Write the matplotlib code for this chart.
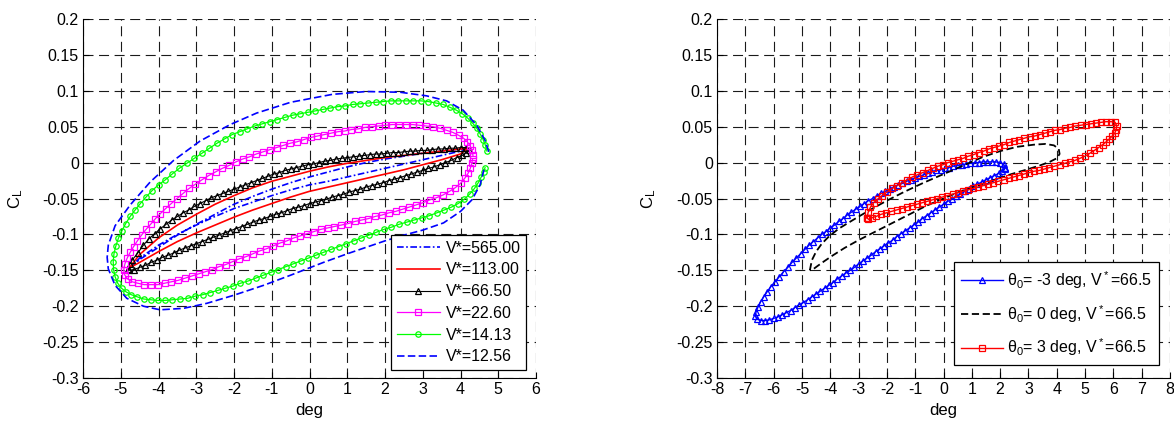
import matplotlib
matplotlib.use("Agg")
import matplotlib.pyplot as plt

plt.rcParams['font.family'] = ['Liberation Sans', 'DejaVu Sans']
plt.rcParams['mathtext.fontset'] = 'custom'
plt.rcParams['mathtext.rm'] = 'Liberation Sans'
plt.rcParams['mathtext.it'] = 'Liberation Sans:italic'

# ================= left panel data (deg, C_L) =================
v565_loop = [(-4.75, -0.146), (-4.5, -0.135), (-4.0, -0.118), (-3.5, -0.101), (-3.0, -0.086), (-2.5, -0.072), (-2.0, -0.058),
             (-1.5, -0.047), (-1.0, -0.037), (-0.5, -0.028), (0.0, -0.020), (0.5, -0.013), (1.0, -0.006), (1.5, 0.000),
             (2.0, 0.005), (2.5, 0.009), (3.0, 0.013), (3.5, 0.016), (4.0, 0.019), (4.15, 0.020),
             (4.0, 0.016), (3.5, 0.010), (3.0, 0.004), (2.5, -0.002), (2.0, -0.008), (1.5, -0.014), (1.0, -0.020),
             (0.5, -0.026), (0.0, -0.031), (-0.5, -0.038), (-1.0, -0.046), (-1.5, -0.055), (-2.0, -0.064), (-2.5, -0.075),
             (-3.0, -0.087), (-3.5, -0.100), (-4.0, -0.115), (-4.5, -0.133), (-4.75, -0.146)]

v113_loop = [(-4.78, -0.147), (-4.5, -0.128), (-4.0, -0.105), (-3.5, -0.087), (-3.0, -0.072), (-2.5, -0.058), (-2.0, -0.046),
             (-1.5, -0.035), (-1.0, -0.026), (-0.5, -0.019), (0.0, -0.012), (0.5, -0.006), (1.0, -0.001), (1.5, 0.003),
             (2.0, 0.007), (2.5, 0.010), (3.0, 0.013), (3.5, 0.016), (4.0, 0.019), (4.2, 0.020),
             (4.0, 0.012), (3.5, 0.004), (3.0, -0.003), (2.5, -0.010), (2.0, -0.016), (1.5, -0.022), (1.0, -0.028),
             (0.5, -0.034), (0.0, -0.040), (-0.5, -0.048), (-1.0, -0.057), (-1.5, -0.066), (-2.0, -0.076), (-2.5, -0.087),
             (-3.0, -0.098), (-3.5, -0.110), (-4.0, -0.124), (-4.5, -0.139), (-4.78, -0.147)]

v665_upper = [(-4.82, -0.148), (-4.76, -0.141), (-4.7, -0.136), (-4.55, -0.126), (-4.4, -0.115), (-4.25, -0.106), (-4.1, -0.099),
              (-3.95, -0.092), (-3.8, -0.086), (-3.65, -0.080), (-3.5, -0.075), (-3.35, -0.070), (-3.2, -0.066), (-3.05, -0.061),
              (-2.9, -0.057), (-2.75, -0.053), (-2.6, -0.049), (-2.45, -0.046), (-2.3, -0.043), (-2.15, -0.040), (-2.0, -0.037),
              (-1.85, -0.034), (-1.7, -0.031), (-1.55, -0.028), (-1.4, -0.025), (-1.25, -0.022), (-1.1, -0.019), (-0.95, -0.016),
              (-0.8, -0.014), (-0.65, -0.011), (-0.5, -0.009), (-0.35, -0.007), (-0.2, -0.005), (-0.05, -0.003), (0.1, -0.002),
              (0.25, 0.000), (0.4, 0.002), (0.55, 0.003), (0.7, 0.005), (0.85, 0.006), (1.0, 0.007), (1.15, 0.008), (1.3, 0.009),
              (1.45, 0.010), (1.6, 0.011), (1.75, 0.012), (1.9, 0.012), (2.05, 0.013), (2.2, 0.014), (2.35, 0.014), (2.5, 0.015),
              (2.65, 0.016), (2.8, 0.016), (2.95, 0.017), (3.1, 0.017), (3.25, 0.018), (3.4, 0.019), (3.55, 0.019), (3.7, 0.020),
              (3.85, 0.020), (4.0, 0.021), (4.15, 0.021), (4.22, 0.018)]
v665_lower = [(4.15, 0.014), (4.05, 0.010), (3.9, 0.007), (3.75, 0.003), (3.6, 0.000), (3.45, -0.003), (3.3, -0.006), (3.15, -0.008),
              (3.0, -0.011), (2.85, -0.013), (2.7, -0.016), (2.55, -0.018), (2.4, -0.021), (2.25, -0.023), (2.1, -0.025),
              (1.95, -0.028), (1.8, -0.030), (1.65, -0.032), (1.5, -0.034), (1.35, -0.037), (1.2, -0.039), (1.05, -0.041),
              (0.9, -0.044), (0.75, -0.046), (0.6, -0.048), (0.45, -0.051), (0.3, -0.053), (0.15, -0.055), (0.0, -0.057),
              (-0.15, -0.060), (-0.3, -0.062), (-0.45, -0.064), (-0.6, -0.067), (-0.75, -0.070), (-0.9, -0.072), (-1.05, -0.075),
              (-1.2, -0.078), (-1.35, -0.080), (-1.5, -0.083), (-1.65, -0.086), (-1.8, -0.089), (-1.95, -0.092), (-2.1, -0.095),
              (-2.25, -0.098), (-2.4, -0.101), (-2.55, -0.104), (-2.7, -0.107), (-2.85, -0.110), (-3.0, -0.113), (-3.15, -0.116),
              (-3.3, -0.119), (-3.45, -0.122), (-3.6, -0.126), (-3.75, -0.129), (-3.9, -0.132), (-4.05, -0.136), (-4.2, -0.139),
              (-4.35, -0.143), (-4.5, -0.146), (-4.65, -0.149), (-4.78, -0.150)]

v226_loop = [(4.33, 0.010), (4.31, 0.017), (4.26, 0.023), (4.18, 0.029), (4.08, 0.034), (3.95, 0.038), (3.8, 0.042), (3.63, 0.045),
             (3.45, 0.048), (3.27, 0.050), (3.09, 0.051), (2.91, 0.052), (2.73, 0.053), (2.55, 0.053), (2.37, 0.053), (2.19, 0.053),
             (2.01, 0.052), (1.83, 0.051), (1.65, 0.050), (1.47, 0.049), (1.29, 0.047), (1.11, 0.046), (0.93, 0.044), (0.75, 0.043),
             (0.57, 0.041), (0.39, 0.039), (0.21, 0.037), (0.03, 0.035), (-0.15, 0.032), (-0.33, 0.029), (-0.51, 0.027),
             (-0.69, 0.024), (-0.87, 0.021), (-1.05, 0.018), (-1.23, 0.015), (-1.41, 0.012), (-1.59, 0.008), (-1.77, 0.005),
             (-1.95, 0.001), (-2.13, -0.004), (-2.31, -0.008), (-2.49, -0.013), (-2.67, -0.018), (-2.85, -0.024), (-3.02, -0.030),
             (-3.19, -0.036), (-3.35, -0.043), (-3.51, -0.050), (-3.66, -0.057), (-3.81, -0.064), (-3.95, -0.071), (-4.08, -0.078),
             (-4.21, -0.086), (-4.33, -0.093), (-4.45, -0.101), (-4.56, -0.109), (-4.66, -0.117), (-4.75, -0.125), (-4.83, -0.133),
             (-4.89, -0.141), (-4.92, -0.149), (-4.9, -0.156), (-4.82, -0.162), (-4.7, -0.166), (-4.55, -0.168), (-4.38, -0.170),
             (-4.2, -0.170), (-4.02, -0.170), (-3.84, -0.168), (-3.66, -0.166), (-3.48, -0.164), (-3.3, -0.161), (-3.12, -0.158),
             (-2.94, -0.155), (-2.76, -0.152), (-2.58, -0.149), (-2.4, -0.145), (-2.22, -0.142), (-2.04, -0.138), (-1.86, -0.134),
             (-1.68, -0.131), (-1.5, -0.127), (-1.32, -0.123), (-1.14, -0.120), (-0.96, -0.116), (-0.78, -0.112), (-0.6, -0.109),
             (-0.42, -0.105), (-0.24, -0.102), (-0.06, -0.099), (0.12, -0.096), (0.3, -0.093), (0.48, -0.091), (0.66, -0.089),
             (0.84, -0.087), (1.02, -0.085), (1.2, -0.082), (1.38, -0.080), (1.56, -0.078), (1.74, -0.075), (1.92, -0.073),
             (2.1, -0.070), (2.28, -0.068), (2.46, -0.065), (2.64, -0.062), (2.82, -0.059), (3.0, -0.056), (3.18, -0.052),
             (3.36, -0.049), (3.54, -0.045), (3.71, -0.040), (3.86, -0.035), (4.0, -0.029), (4.11, -0.022), (4.2, -0.015),
             (4.26, -0.008), (4.3, -0.001), (4.32, 0.005)]

v1413_loop = [(4.70, 0.016), (4.66, 0.024), (4.60, 0.032), (4.52, 0.040), (4.43, 0.048), (4.32, 0.055), (4.19, 0.062), (4.05, 0.068),
              (3.89, 0.073), (3.72, 0.077), (3.54, 0.081), (3.35, 0.083), (3.15, 0.085), (2.95, 0.086), (2.75, 0.086), (2.55, 0.086),
              (2.35, 0.086), (2.15, 0.086), (1.95, 0.085), (1.75, 0.084), (1.55, 0.083), (1.35, 0.082), (1.15, 0.081), (0.95, 0.079),
              (0.75, 0.078), (0.55, 0.076), (0.35, 0.074), (0.15, 0.072), (-0.05, 0.070), (-0.25, 0.068), (-0.45, 0.066),
              (-0.65, 0.063), (-0.85, 0.060), (-1.05, 0.057), (-1.25, 0.054), (-1.45, 0.051), (-1.65, 0.047), (-1.85, 0.043),
              (-2.05, 0.039), (-2.25, 0.033), (-2.45, 0.027), (-2.65, 0.020), (-2.85, 0.013), (-3.05, 0.006), (-3.25, -0.001),
              (-3.45, -0.008), (-3.64, -0.016), (-3.82, -0.024), (-4.0, -0.031), (-4.17, -0.039), (-4.33, -0.048), (-4.48, -0.057),
              (-4.62, -0.066), (-4.75, -0.075), (-4.87, -0.085), (-4.97, -0.095), (-5.06, -0.105), (-5.13, -0.116), (-5.18, -0.127),
              (-5.2, -0.138), (-5.19, -0.149), (-5.15, -0.159), (-5.08, -0.168), (-4.98, -0.175), (-4.86, -0.180), (-4.72, -0.184),
              (-4.56, -0.187), (-4.39, -0.190), (-4.21, -0.191), (-4.02, -0.192), (-3.83, -0.192), (-3.63, -0.191), (-3.43, -0.190),
              (-3.23, -0.189), (-3.03, -0.186), (-2.83, -0.184), (-2.63, -0.181), (-2.43, -0.178), (-2.23, -0.175), (-2.03, -0.172),
              (-1.83, -0.168), (-1.63, -0.165), (-1.43, -0.161), (-1.23, -0.157), (-1.03, -0.153), (-0.83, -0.149), (-0.63, -0.145),
              (-0.43, -0.141), (-0.23, -0.137), (-0.03, -0.133), (0.17, -0.129), (0.37, -0.125), (0.57, -0.121), (0.77, -0.117),
              (0.97, -0.113), (1.17, -0.109), (1.37, -0.105), (1.57, -0.101), (1.77, -0.097), (1.97, -0.093), (2.17, -0.090),
              (2.37, -0.086), (2.57, -0.083), (2.77, -0.080), (2.97, -0.077), (3.17, -0.074), (3.37, -0.070), (3.57, -0.066),
              (3.76, -0.062), (3.94, -0.057), (4.1, -0.051), (4.24, -0.044), (4.37, -0.036), (4.47, -0.028), (4.55, -0.020),
              (4.61, -0.013), (4.65, -0.007)]

v1256_loop = [(4.75, 0.015), (4.65, 0.031), (4.43, 0.052), (4.07, 0.073), (3.63, 0.086), (3.1, 0.093), (2.4, 0.098), (1.5, 0.099),
              (0.6, 0.095), (-0.5, 0.084), (-1.4, 0.069), (-2.1, 0.053), (-2.9, 0.030), (-3.6, 0.003), (-4.22, -0.027),
              (-4.75, -0.059), (-5.15, -0.088), (-5.33, -0.115), (-5.36, -0.132), (-5.33, -0.148), (-5.15, -0.171), (-4.84, -0.189),
              (-4.4, -0.200), (-3.96, -0.205), (-3.34, -0.203), (-2.72, -0.196), (-2.02, -0.185), (-1.22, -0.171), (-0.51, -0.157),
              (0.37, -0.139), (1.0, -0.127), (1.5, -0.118), (2.0, -0.109), (2.5, -0.101), (3.0, -0.094), (3.55, -0.084),
              (4.0, -0.068), (4.3, -0.052), (4.52, -0.031), (4.62, -0.010)]

left_labels = ['V*=565.00', 'V*=113.00', 'V*=66.50', 'V*=22.60', 'V*=14.13', 'V*=12.56']

# ================= right panel data (deg, C_L) =================
thm3_loop = [(2.18, -0.007), (2.12, -0.002), (2.0, 0.000), (1.85, 0.001), (1.7, 0.001), (1.55, 0.001), (1.4, 0.001), (1.25, 0.000),
             (1.1, 0.000), (0.95, -0.001), (0.8, -0.002), (0.65, -0.003), (0.5, -0.004), (0.35, -0.005), (0.2, -0.007),
             (0.05, -0.008), (-0.1, -0.010), (-0.25, -0.011), (-0.4, -0.013), (-0.55, -0.015), (-0.7, -0.017), (-0.85, -0.019),
             (-1.0, -0.021), (-1.15, -0.024), (-1.3, -0.026), (-1.45, -0.029), (-1.6, -0.031), (-1.75, -0.034), (-1.9, -0.037),
             (-2.05, -0.040), (-2.2, -0.043), (-2.35, -0.046), (-2.5, -0.050), (-2.65, -0.053), (-2.8, -0.057), (-2.95, -0.061),
             (-3.1, -0.065), (-3.25, -0.069), (-3.4, -0.073), (-3.55, -0.078), (-3.7, -0.082), (-3.85, -0.087), (-4.0, -0.091),
             (-4.15, -0.096), (-4.3, -0.100), (-4.45, -0.105), (-4.6, -0.110), (-4.75, -0.115), (-4.9, -0.121), (-5.05, -0.127),
             (-5.2, -0.133), (-5.35, -0.139), (-5.5, -0.146), (-5.65, -0.152), (-5.8, -0.159), (-5.95, -0.166), (-6.1, -0.173),
             (-6.23, -0.180), (-6.35, -0.187), (-6.46, -0.194), (-6.55, -0.201), (-6.62, -0.208), (-6.65, -0.214),
             (-6.58, -0.218), (-6.45, -0.220), (-6.3, -0.220), (-6.15, -0.219), (-6.0, -0.217), (-5.85, -0.215), (-5.7, -0.212),
             (-5.55, -0.209), (-5.4, -0.206), (-5.25, -0.202), (-5.1, -0.198), (-4.95, -0.195), (-4.8, -0.191), (-4.65, -0.187),
             (-4.5, -0.183), (-4.35, -0.179), (-4.2, -0.175), (-4.05, -0.171), (-3.9, -0.167), (-3.75, -0.162), (-3.6, -0.158),
             (-3.45, -0.154), (-3.3, -0.150), (-3.15, -0.146), (-3.0, -0.141), (-2.85, -0.137), (-2.7, -0.133), (-2.55, -0.129),
             (-2.4, -0.124), (-2.25, -0.120), (-2.1, -0.116), (-1.95, -0.112), (-1.8, -0.108), (-1.65, -0.103), (-1.5, -0.099),
             (-1.35, -0.095), (-1.2, -0.091), (-1.05, -0.087), (-0.9, -0.083), (-0.75, -0.078), (-0.6, -0.074), (-0.45, -0.070),
             (-0.3, -0.066), (-0.15, -0.062), (0.0, -0.058), (0.15, -0.054), (0.3, -0.051), (0.45, -0.047), (0.6, -0.044),
             (0.75, -0.040), (0.9, -0.037), (1.05, -0.033), (1.2, -0.030), (1.35, -0.027), (1.5, -0.024), (1.65, -0.021),
             (1.8, -0.018), (1.95, -0.015), (2.08, -0.012), (2.16, -0.009), (2.18, -0.007)]

th0_loop = [(-4.72, -0.150), (-4.65, -0.136), (-4.5, -0.124), (-4.3, -0.113), (-4.05, -0.103), (-3.7, -0.092), (-3.2, -0.080),
            (-2.6, -0.066), (-2.0, -0.053), (-1.4, -0.041), (-0.7, -0.028), (0.0, -0.016), (0.7, -0.004), (1.4, 0.008),
            (2.0, 0.016), (2.6, 0.022), (3.2, 0.025), (3.6, 0.026), (3.9, 0.024), (4.07, 0.019), (4.1, 0.012), (4.0, 0.006),
            (3.75, 0.001), (3.4, -0.004), (3.0, -0.009), (2.4, -0.016), (1.8, -0.024), (1.2, -0.032), (0.6, -0.040),
            (0.0, -0.050), (-0.6, -0.060), (-1.2, -0.072), (-1.8, -0.084), (-2.4, -0.096), (-3.0, -0.108), (-3.5, -0.119),
            (-3.9, -0.129), (-4.2, -0.137), (-4.45, -0.144), (-4.62, -0.149), (-4.72, -0.150)]

thp3_loop = [(-2.7, -0.077), (-2.66, -0.069), (-2.58, -0.062), (-2.47, -0.056), (-2.33, -0.051), (-2.17, -0.046), (-2.0, -0.041),
             (-1.82, -0.036), (-1.64, -0.032), (-1.46, -0.028), (-1.28, -0.024), (-1.1, -0.020), (-0.92, -0.017), (-0.74, -0.014),
             (-0.56, -0.011), (-0.38, -0.008), (-0.2, -0.005), (-0.02, -0.003), (0.16, 0.000), (0.34, 0.002), (0.52, 0.004),
             (0.7, 0.006), (0.88, 0.009), (1.06, 0.011), (1.24, 0.014), (1.42, 0.016), (1.6, 0.019), (1.78, 0.021), (1.96, 0.023),
             (2.14, 0.025), (2.32, 0.028), (2.5, 0.030), (2.68, 0.032), (2.86, 0.034), (3.04, 0.036), (3.22, 0.037), (3.4, 0.039),
             (3.58, 0.041), (3.76, 0.043), (3.94, 0.045), (4.12, 0.046), (4.3, 0.048), (4.48, 0.049), (4.66, 0.051), (4.84, 0.052),
             (5.02, 0.053), (5.2, 0.054), (5.38, 0.055), (5.56, 0.056), (5.74, 0.057), (5.92, 0.057), (6.06, 0.056), (6.12, 0.051),
             (6.1, 0.046), (6.05, 0.041), (5.96, 0.037), (5.86, 0.033), (5.75, 0.029), (5.62, 0.025), (5.48, 0.021), (5.33, 0.017),
             (5.17, 0.013), (5.0, 0.009), (4.82, 0.006), (4.64, 0.003), (4.46, 0.001), (4.28, -0.001), (4.1, -0.003), (3.92, -0.005),
             (3.74, -0.007), (3.56, -0.009), (3.38, -0.011), (3.2, -0.012), (3.02, -0.014), (2.84, -0.016), (2.66, -0.018),
             (2.48, -0.020), (2.3, -0.022), (2.12, -0.024), (1.94, -0.026), (1.76, -0.028), (1.58, -0.030), (1.4, -0.032),
             (1.22, -0.034), (1.04, -0.036), (0.86, -0.038), (0.68, -0.040), (0.5, -0.042), (0.32, -0.044), (0.14, -0.046),
             (-0.04, -0.048), (-0.22, -0.050), (-0.4, -0.052), (-0.58, -0.054), (-0.76, -0.056), (-0.94, -0.058), (-1.12, -0.060),
             (-1.3, -0.062), (-1.48, -0.064), (-1.66, -0.066), (-1.84, -0.068), (-2.02, -0.070), (-2.2, -0.072), (-2.38, -0.075),
             (-2.54, -0.077), (-2.65, -0.079), (-2.7, -0.077)]

right_labels = [r'θ$_0$= -3 deg, V$^*$=66.5', r'θ$_0$= 0 deg, V$^*$=66.5', r'θ$_0$= 3 deg, V$^*$=66.5']

yticks = [0.2, 0.15, 0.1, 0.05, 0, -0.05, -0.1, -0.15, -0.2, -0.25, -0.3]
ytick_labels = ['0.2', '0.15', '0.1', '0.05', '0', '-0.05', '-0.1', '-0.15', '-0.2', '-0.25', '-0.3']
left_xticks = list(range(-6, 7))
right_xticks = list(range(-8, 9))


def xs(pts):
    return [p[0] for p in pts]


def ys(pts):
    return [p[1] for p in pts]


W, H = 1174, 421
fig = plt.figure(figsize=(W / 100, H / 100), dpi=100)
axL = fig.add_axes([83 / W, 1 - 378 / H, 453 / W, 359 / H])
axR = fig.add_axes([717 / W, 1 - 378 / H, 453 / W, 359 / H])


def style(ax, xticks, xlim):
    ax.set_xlim(*xlim)
    ax.set_ylim(-0.3, 0.2)
    ax.set_xticks(xticks)
    ax.set_xticklabels([str(t) for t in xticks])
    ax.set_yticks(yticks)
    ax.set_yticklabels(ytick_labels)
    for s in ['top', 'right']:
        ax.spines[s].set_visible(False)
    for s in ['left', 'bottom']:
        ax.spines[s].set_linewidth(0.8)
    ax.tick_params(direction='in', length=4, width=0.8, labelsize=11.5, pad=3, colors='black')
    ax.grid(True, color='#1a1a1a', linestyle=(0, (9, 5)), linewidth=0.8)
    ax.set_axisbelow(True)
    ax.set_xlabel('deg', fontsize=12)
    ax.set_ylabel(r'C$_\mathregular{L}$', fontsize=12)
    ax.xaxis.set_label_coords(0.5, -0.09)
    ax.xaxis.label.set_va('center')
    ax.yaxis.label.set_va('center')


style(axL, left_xticks, (-6, 6))
style(axR, right_xticks, (-8, 8))
axL.yaxis.set_label_coords(-0.148, 0.5)
axR.yaxis.set_label_coords(-0.150, 0.5)

v665_loop = v665_upper + v665_lower

axL.plot(xs(v565_loop), ys(v565_loop), color='#0000ff', linestyle=(0, (4, 1.5, 1, 1.5)), lw=1.2, label=left_labels[0])
axL.plot(xs(v113_loop), ys(v113_loop), color='#ff0000', linestyle='-', lw=1.2, label=left_labels[1])
axL.plot(xs(v665_loop), ys(v665_loop), color='black', lw=0.8, marker='^', ms=4.4, mfc='none', mew=0.9, label=left_labels[2])
axL.plot(xs(v226_loop), ys(v226_loop), color='#ff00ff', lw=0.9, marker='s', ms=3.9, mfc='none', mew=0.9, label=left_labels[3])
axL.plot(xs(v1413_loop), ys(v1413_loop), color='#00ff00', lw=0.9, marker='o', ms=3.9, mfc='none', mew=0.9, label=left_labels[4])
axL.plot(xs(v1256_loop), ys(v1256_loop), color='#0000ff', linestyle=(0, (4.5, 2)), lw=1.2, label=left_labels[5])

legL = axL.legend(loc='upper right', bbox_to_anchor=(0.978, 0.398), borderaxespad=0, fontsize=11.5,
                  frameon=True, fancybox=False, edgecolor='black', framealpha=1, numpoints=1,
                  handlelength=2.7, handletextpad=0.35, labelspacing=0.42, borderpad=0.35)
legL.get_frame().set_linewidth(0.9)

axR.plot(xs(thm3_loop), ys(thm3_loop), color='#0000ff', lw=1.0, marker='^', ms=4.6, mfc='none', mew=0.9, label=right_labels[0])
axR.plot(xs(th0_loop), ys(th0_loop), color='black', linestyle=(0, (4, 2)), lw=1.3, label=right_labels[1])
axR.plot(xs(thp3_loop), ys(thp3_loop), color='#ff0000', lw=1.0, marker='s', ms=4.6, mfc='none', mew=0.9, label=right_labels[2])

legR = axR.legend(loc='upper right', bbox_to_anchor=(0.976, 0.323), borderaxespad=0, fontsize=11.5,
                  frameon=True, fancybox=False, edgecolor='black', framealpha=1, numpoints=1,
                  handlelength=2.6, handletextpad=0.25, labelspacing=0.75, borderpad=0.45)
legR.get_frame().set_linewidth(0.9)

fig.savefig('out.png', dpi=100)
